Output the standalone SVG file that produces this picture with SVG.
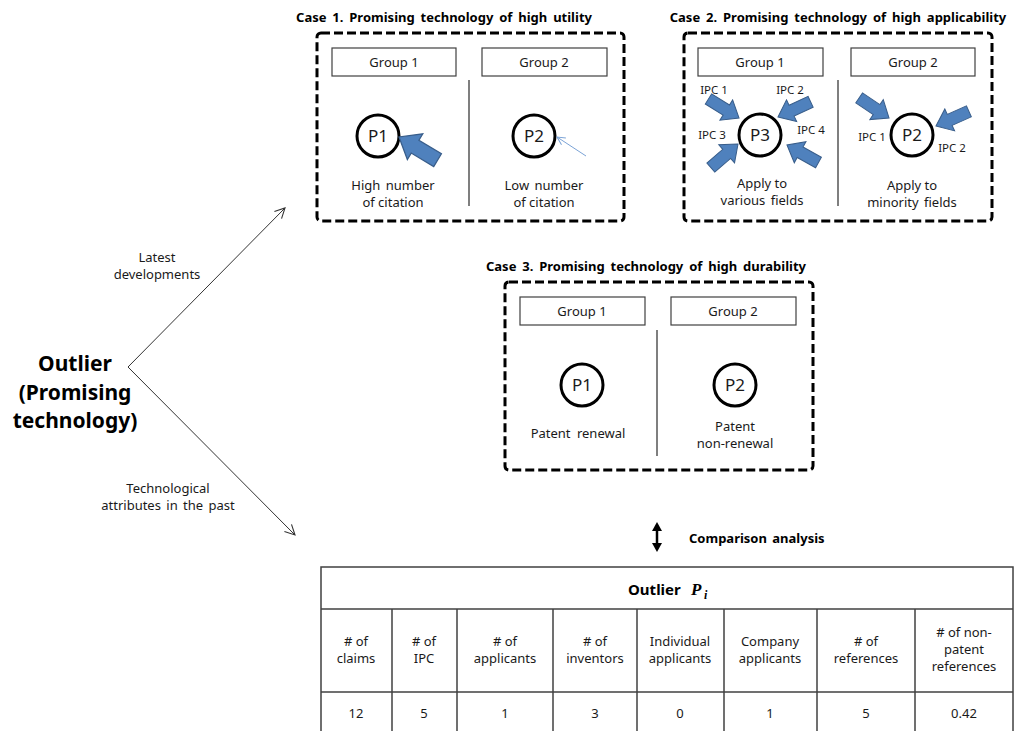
<svg xmlns="http://www.w3.org/2000/svg" width="1014" height="731" viewBox="0 0 1014 731">
<style>
  text{font-family:"Noto Sans","Liberation Sans",Arial,sans-serif;fill:#1a1a1a;}
  .t{font-size:13px;text-anchor:middle;}
  .title{font-size:13px;font-weight:bold;fill:#000;}
  .ipc{font-size:11.5px;text-anchor:middle;}
  .pl{font-size:17px;text-anchor:middle;}
  .dash{fill:none;stroke:#000;stroke-width:3;stroke-dasharray:9 4;}
  .grp{fill:#fff;stroke:#404040;stroke-width:1.2;}
  .div{stroke:#555;stroke-width:1.5;}
  .pc{fill:#fff;stroke:#000;stroke-width:3;}
  .ba{fill:#4F81BD;stroke:#385D8A;stroke-width:1;}
  .tb{stroke:#404040;stroke-width:1.5;fill:none;}
</style>
<defs>
  <path id="barrow" d="M0,0 L-15,-12 L-15,-6 L-36,-6 L-36,6 L-15,6 L-15,12 Z"/>
  <marker id="open" viewBox="0 0 12 12" refX="11" refY="6" markerWidth="12" markerHeight="12" markerUnits="userSpaceOnUse" orient="auto">
    <path d="M1,1 L11,6 L1,11" fill="none" stroke="#333" stroke-width="1.1"/>
  </marker>
  <marker id="thin" viewBox="0 0 10 10" refX="9" refY="5" markerWidth="10" markerHeight="10" markerUnits="userSpaceOnUse" orient="auto">
    <path d="M1,1 L9,5 L1,9" fill="none" stroke="#7BA3D6" stroke-width="1"/>
  </marker>
</defs>

<!-- Left outlier label -->
<g id="outlier">
  <text x="75" y="371" style="font-size:21px;font-weight:bold;text-anchor:middle;fill:#000">Outlier</text>
  <text x="75" y="400" style="font-size:21px;font-weight:bold;text-anchor:middle;fill:#000">(Promising</text>
  <text x="75" y="428" style="font-size:21px;font-weight:bold;text-anchor:middle;fill:#000">technology)</text>
</g>

<!-- Connectors -->
<g id="connectors">
  <line x1="128" y1="367" x2="285" y2="208" stroke="#333" stroke-width="1" marker-end="url(#open)"/>
  <line x1="128" y1="367" x2="295" y2="535" stroke="#333" stroke-width="1" marker-end="url(#open)"/>
  <text class="t" x="157" y="262">Latest</text>
  <text class="t" x="157" y="279">developments</text>
  <text class="t" x="168" y="493">Technological</text>
  <text class="t" x="168" y="510" style="word-spacing:2px">attributes in the past</text>
  <!-- comparison double arrow -->
  <line x1="657" y1="529" x2="657" y2="545" stroke="#000" stroke-width="2.5"/>
  <polygon points="657,522 652,531 662,531" fill="#000"/>
  <polygon points="657,552 652,543 662,543" fill="#000"/>
  <text x="689" y="543" style="font-size:13px;font-weight:bold;fill:#000;word-spacing:2px">Comparison analysis</text>
</g>

<!-- Case 1 -->
<g id="case1">
  <text class="title" x="444" y="22" text-anchor="middle" style="word-spacing:2.5px">Case 1. Promising technology of high utility</text>
  <rect class="dash" x="317" y="33" width="307" height="188" rx="4"/>
  <rect class="grp" x="332" y="48" width="124" height="28"/>
  <text class="t" x="394" y="67">Group 1</text>
  <rect class="grp" x="482" y="48" width="125" height="28"/>
  <text class="t" x="544" y="67">Group 2</text>
  <line class="div" x1="469" y1="80" x2="469" y2="206"/>
  <circle class="pc" cx="378" cy="136" r="21"/>
  <text class="pl" x="378" y="142">P1</text>
  <use href="#barrow" class="ba" transform="translate(399,137) rotate(211) scale(1.25)"/>
  <text class="t" x="393" y="190" style="word-spacing:2px">High number</text>
  <text class="t" x="393" y="207">of citation</text>
  <circle class="pc" cx="534" cy="136" r="21"/>
  <text class="pl" x="534" y="142">P2</text>
  <line x1="586" y1="156" x2="557" y2="137" stroke="#7BA3D6" stroke-width="1" marker-end="url(#thin)"/>
  <text class="t" x="544" y="190" style="word-spacing:2px">Low number</text>
  <text class="t" x="544" y="207">of citation</text>
</g>

<!-- Case 2 -->
<g id="case2">
  <text class="title" x="838" y="22" text-anchor="middle" style="word-spacing:2.5px">Case 2. Promising technology of high applicability</text>
  <rect class="dash" x="684" y="33" width="308" height="188" rx="4"/>
  <rect class="grp" x="698" y="48" width="125" height="28"/>
  <text class="t" x="760" y="67">Group 1</text>
  <rect class="grp" x="851" y="48" width="124" height="28"/>
  <text class="t" x="913" y="67">Group 2</text>
  <line class="div" x1="838" y1="80" x2="838" y2="206"/>
  <circle class="pc" cx="760" cy="135" r="21"/>
  <text class="pl" x="760" y="141">P3</text>
  <use href="#barrow" class="ba" transform="translate(739,118) rotate(32)"/>
  <use href="#barrow" class="ba" transform="translate(778,117) rotate(155)"/>
  <use href="#barrow" class="ba" transform="translate(738,144) rotate(-41)"/>
  <use href="#barrow" class="ba" transform="translate(787,145) rotate(209)"/>
  <text class="ipc" x="714" y="94">IPC 1</text>
  <text class="ipc" x="790" y="94">IPC 2</text>
  <text class="ipc" x="712" y="139">IPC 3</text>
  <text class="ipc" x="811" y="134">IPC 4</text>
  <text class="t" x="762" y="188">Apply to</text>
  <text class="t" x="762" y="205" style="word-spacing:2px">various fields</text>
  <circle class="pc" cx="912" cy="135" r="21"/>
  <text class="pl" x="912" y="141">P2</text>
  <use href="#barrow" class="ba" transform="translate(889,118) rotate(34)"/>
  <use href="#barrow" class="ba" transform="translate(936,126) rotate(156)"/>
  <text class="ipc" x="872" y="141">IPC 1</text>
  <text class="ipc" x="952" y="152">IPC 2</text>
  <text class="t" x="912" y="190">Apply to</text>
  <text class="t" x="912" y="207" style="word-spacing:2px">minority fields</text>
</g>

<!-- Case 3 -->
<g id="case3">
  <text class="title" x="646" y="271" text-anchor="middle" style="word-spacing:2.5px">Case 3. Promising technology of high durability</text>
  <rect class="dash" x="505" y="282" width="308" height="188" rx="4"/>
  <rect class="grp" x="520" y="297" width="125" height="28"/>
  <text class="t" x="582" y="316">Group 1</text>
  <rect class="grp" x="671" y="297" width="125" height="28"/>
  <text class="t" x="733" y="316">Group 2</text>
  <line class="div" x1="657" y1="330" x2="657" y2="456"/>
  <circle class="pc" cx="582" cy="385" r="21"/>
  <text class="pl" x="582" y="391">P1</text>
  <text class="t" x="578" y="438" style="word-spacing:3px">Patent renewal</text>
  <circle class="pc" cx="735" cy="385" r="21"/>
  <text class="pl" x="735" y="391">P2</text>
  <text class="t" x="735" y="431">Patent</text>
  <text class="t" x="735" y="448">non-renewal</text>
</g>

<!-- Table -->
<g id="table">
  <rect class="tb" x="321" y="567" width="692" height="170"/>
  <line class="tb" x1="321" y1="609" x2="1013" y2="609"/>
  <line class="tb" x1="321" y1="692" x2="1013" y2="692"/>
  <line class="tb" x1="392" y1="609" x2="392" y2="731"/>
  <line class="tb" x1="457" y1="609" x2="457" y2="731"/>
  <line class="tb" x1="553" y1="609" x2="553" y2="731"/>
  <line class="tb" x1="637" y1="609" x2="637" y2="731"/>
  <line class="tb" x1="724" y1="609" x2="724" y2="731"/>
  <line class="tb" x1="817" y1="609" x2="817" y2="731"/>
  <line class="tb" x1="915" y1="609" x2="915" y2="731"/>
  <text x="628" y="595" style="font-size:15px;font-weight:bold;fill:#000">Outlier</text>
  <text x="691" y="595" style="font-family:'Liberation Serif','Times New Roman',serif;font-size:17px;font-weight:bold;font-style:italic;fill:#000">P</text>
  <text x="704" y="599" style="font-family:'Liberation Serif','Times New Roman',serif;font-size:12px;font-weight:bold;font-style:italic;fill:#000">i</text>
  <text class="t" x="356" y="646"># of</text>
  <text class="t" x="356" y="663">claims</text>
  <text class="t" x="424" y="646"># of</text>
  <text class="t" x="424" y="663">IPC</text>
  <text class="t" x="505" y="646"># of</text>
  <text class="t" x="505" y="663">applicants</text>
  <text class="t" x="595" y="646"># of</text>
  <text class="t" x="595" y="663">inventors</text>
  <text class="t" x="680" y="646">Individual</text>
  <text class="t" x="680" y="663">applicants</text>
  <text class="t" x="770" y="646">Company</text>
  <text class="t" x="770" y="663">applicants</text>
  <text class="t" x="866" y="646"># of</text>
  <text class="t" x="866" y="663">references</text>
  <text class="t" x="964" y="637"># of non-</text>
  <text class="t" x="964" y="654">patent</text>
  <text class="t" x="964" y="671">references</text>
  <text class="t" x="356" y="718">12</text>
  <text class="t" x="424" y="718">5</text>
  <text class="t" x="505" y="718">1</text>
  <text class="t" x="595" y="718">3</text>
  <text class="t" x="680" y="718">0</text>
  <text class="t" x="770" y="718">1</text>
  <text class="t" x="866" y="718">5</text>
  <text class="t" x="964" y="718">0.42</text>
</g>
</svg>
